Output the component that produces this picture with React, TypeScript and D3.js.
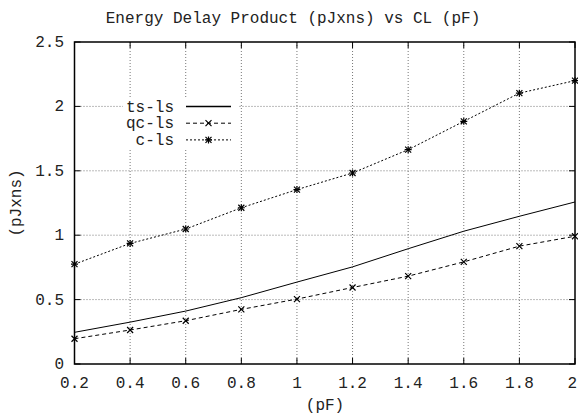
import React, { useEffect, useRef } from "react";
import * as d3 from "d3";

const xValues = [0.2, 0.4, 0.6, 0.8, 1.0, 1.2, 1.4, 1.6, 1.8, 2.0];
const tsLs = [0.246, 0.325, 0.411, 0.515, 0.636, 0.754, 0.895, 1.031, 1.147, 1.258];
const qcLs = [0.196, 0.264, 0.336, 0.424, 0.504, 0.594, 0.682, 0.793, 0.915, 0.992];
const cLs = [0.775, 0.936, 1.048, 1.213, 1.354, 1.483, 1.664, 1.884, 2.103, 2.2];
const xTicks = [0.2, 0.4, 0.6, 0.8, 1, 1.2, 1.4, 1.6, 1.8, 2];
const yTicks = [0, 0.5, 1, 1.5, 2, 2.5];
const seriesNames = ["ts-ls", "qc-ls", "c-ls"];

const W = 578, H = 417;
const M = { left: 74.5, right: 575, top: 42, bottom: 364 };
const FONT = "'Liberation Mono', 'DejaVu Sans Mono', monospace";
const FS = 16;
const TXT = "#222";

export default function App() {
  const ref = useRef<SVGSVGElement>(null);
  useEffect(() => {
    const svg = d3.select(ref.current);
    svg.selectAll("*").remove();
    const x = d3.scaleLinear().domain([0.2, 2]).range([M.left, M.right]);
    const y = d3.scaleLinear().domain([0, 2.5]).range([M.bottom, M.top]);
    svg.append("rect").attr("width", W).attr("height", H).attr("fill", "#fff");

    // grid
    const g = svg.append("g");
    xTicks.slice(1, -1).forEach((t) => {
      g.append("line").attr("x1", x(t)).attr("x2", x(t)).attr("y1", M.top).attr("y2", M.bottom)
        .attr("stroke", "#777").attr("stroke-width", 1).attr("stroke-dasharray", "1,2");
    });
    yTicks.slice(1, -1).forEach((t) => {
      g.append("line").attr("x1", M.left).attr("x2", M.right).attr("y1", y(t)).attr("y2", y(t))
        .attr("stroke", "#777").attr("stroke-width", 1).attr("stroke-dasharray", "1,2");
    });

    // legend background (opaque)
    svg.append("rect").attr("x", 123).attr("y", 97).attr("width", 115).attr("height", 52).attr("fill", "#fff");

    // ticks (mirrored, inward)
    const tk = svg.append("g").attr("stroke", "#000").attr("stroke-width", 1);
    xTicks.forEach((t) => {
      tk.append("line").attr("x1", x(t)).attr("x2", x(t)).attr("y1", M.bottom).attr("y2", M.bottom - 6);
      tk.append("line").attr("x1", x(t)).attr("x2", x(t)).attr("y1", M.top).attr("y2", M.top + 6);
    });
    yTicks.forEach((t) => {
      tk.append("line").attr("x1", M.left).attr("x2", M.left + 6).attr("y1", y(t)).attr("y2", y(t));
      tk.append("line").attr("x1", M.right).attr("x2", M.right - 6).attr("y1", y(t)).attr("y2", y(t));
    });

    // tick labels
    xTicks.forEach((t, i) => {
      const last = i === xTicks.length - 1;
      svg.append("text").attr("x", last ? W - 1 : x(t)).attr("y", 388)
        .attr("text-anchor", last ? "end" : "middle")
        .attr("font-family", FONT).attr("font-size", FS).attr("fill", TXT).text(String(t));
    });
    yTicks.forEach((t) => {
      svg.append("text").attr("x", 64).attr("y", y(t) + 5).attr("text-anchor", "end")
        .attr("font-family", FONT).attr("font-size", FS).attr("fill", TXT).text(String(t));
    });

    const line = d3.line<number>().x((_, i) => x(xValues[i])).y((d) => y(d));
    const styles = [
      { data: tsLs, dash: null, marker: null },
      { data: qcLs, dash: "4,3", marker: "x" },
      { data: cLs, dash: "2,2", marker: "star" },
    ];
    const drawMarker = (sel: any, cx: number, cy: number, type: string | null) => {
      if (!type) return;
      const s = 3;
      sel.append("path").attr("d", `M${cx - s},${cy - s}L${cx + s},${cy + s}M${cx - s},${cy + s}L${cx + s},${cy - s}`)
        .attr("stroke", "#000").attr("stroke-width", 1.2);
      if (type === "star") {
        sel.append("path").attr("d", `M${cx - s - 0.5},${cy}L${cx + s + 0.5},${cy}M${cx},${cy - s - 0.5}L${cx},${cy + s + 0.5}`)
          .attr("stroke", "#000").attr("stroke-width", 1.2);
      }
    };
    styles.forEach((st) => {
      const p = svg.append("path").attr("d", line(st.data)).attr("fill", "none").attr("stroke", "#000").attr("stroke-width", 1);
      if (st.dash) p.attr("stroke-dasharray", st.dash);
      st.data.forEach((v, i) => drawMarker(svg, x(xValues[i]), y(v), st.marker));
    });

    // legend
    styles.forEach((st, i) => {
      const ly = 106.5 + i * 16.7;
      svg.append("text").attr("x", 174).attr("y", ly + 5).attr("text-anchor", "end")
        .attr("font-family", FONT).attr("font-size", FS).attr("fill", TXT).text(seriesNames[i]);
      const l = svg.append("line").attr("x1", 186).attr("x2", 231).attr("y1", ly).attr("y2", ly)
        .attr("stroke", "#000").attr("stroke-width", st.dash ? 1 : 1.3);
      if (st.dash) l.attr("stroke-dasharray", st.dash);
      drawMarker(svg, 208.5, ly, st.marker);
    });

    // border
    svg.append("rect").attr("x", M.left).attr("y", M.top).attr("width", M.right - M.left).attr("height", M.bottom - M.top)
      .attr("fill", "none").attr("stroke", "#000").attr("stroke-width", 1.5);

    // titles
    svg.append("text").attr("x", 293).attr("y", 23).attr("text-anchor", "middle")
      .attr("font-family", FONT).attr("font-size", FS).attr("fill", TXT).text("Energy Delay Product (pJxns) vs CL (pF)");
    svg.append("text").attr("x", 325).attr("y", 410).attr("text-anchor", "middle")
      .attr("font-family", FONT).attr("font-size", FS).attr("fill", TXT).text("(pF)");
    svg.append("text").attr("transform", `translate(21,203) rotate(-90)`).attr("text-anchor", "middle")
      .attr("font-family", FONT).attr("font-size", FS).attr("fill", TXT).text("(pJxns)");
  }, []);
  return (
    <svg ref={ref} width={W} height={H} style={{ position: "absolute", left: 0, top: 0 }} />
  );
}
